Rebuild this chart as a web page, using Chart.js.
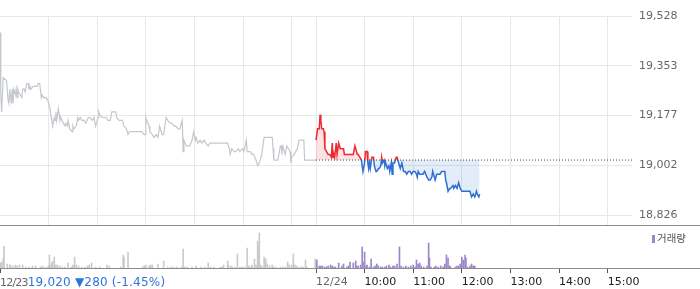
<!DOCTYPE html>
<html>
<head>
<meta charset="utf-8">
<script src="https://cdn.jsdelivr.net/npm/chart.js@4.4.1/dist/chart.umd.min.js"></script>
<style>
  body { margin: 0; background: #fff; font-family: "DejaVu Sans", sans-serif; }
  #wrap { position: relative; width: 700px; height: 289px; overflow: hidden; }
  .box { position: absolute; left: 0; width: 700px; }
  .rule { position: absolute; left: 0; width: 700px; height: 1px; background: #8c8c8c; }
  #legend { position: absolute; left: 652px; top: 230px; font: 10.5px "Noto Sans CJK KR", sans-serif; color: #555; white-space: nowrap; }
  #legend i { display: inline-block; width: 3px; height: 8px; background: #9b87c8; margin-right: 2px; vertical-align: middle; }
  #info { position: absolute; left: 0; top: 274px; line-height: 14px; white-space: nowrap; }
  #info .g { color: #666; font-size: 11px; letter-spacing: -0.8px; }
  #info .b { color: #2f74dc; font-size: 12px; letter-spacing: 0.2px; }
</style>
</head>
<body>
<div id="wrap">
  <div class="box" style="top:0;height:225px"><canvas id="priceChart"></canvas></div>
  <div class="rule" style="top:225px"></div>
  <div class="box" style="top:226px;height:63px"><canvas id="volChart"></canvas></div>
  <div class="rule" style="top:268px"></div>
  <div id="legend"><i></i>거래량</div>
  <div id="info"></div>
</div>
<script>
// previous session (12/23) summary
const prevDate = '12/23';
const prevClose = 19020;
const prevChange = -280;
const prevPct = -1.45;

// minutes since 09:00, one trading session = 390 minutes
const sessionLength = 390;

// 12/23 price line
const prevMins = [0,1,2,4,8,10,11,12,14,15,
  16,17,19,20,21,22,23,25,27,28,
  30,31,33,35,36,37,38,41,43,46,
  47,49,51,52,54,57,59,62,63,64,
  65,67,68,69,70,72,73,74,75,78,
  80,81,83,84,86,89,90,91,94,96,
  97,99,101,104,106,109,111,114,116,118,
  121,122,123,126,131,133,136,138,143,144,
  147,151,153,156,158,160,170,175,178,179,
  180,181,184,185,188,190,193,195,197,200,
  202,205,207,210,212,215,217,220,222,223,
  225,226,227,230,232,234,237,239,241,242,
  244,247,249,252,254,257,259,262,264,281,
  283,284,286,289,291,294,296,299,301,304,
  305,309,311,313,316,318,320,321,323,326,
  328,333,336,337,338,343,346,347,348,349,
  352,354,358,359,360,363,365,367,369,371,
  375,376,390];
const prevPrices = [19470,19250,19190,19310,19300,19230,19220,19270,19220,19270,
  19220,19270,19250,19270,19240,19270,19260,19250,19240,19270,
  19270,19260,19290,19290,19270,19280,19270,19280,19280,19280,
  19290,19290,19240,19250,19240,19240,19230,19200,19170,19160,
  19140,19170,19160,19190,19160,19200,19180,19160,19170,19150,
  19140,19150,19140,19160,19130,19120,19140,19130,19140,19170,
  19160,19170,19160,19160,19150,19170,19170,19160,19170,19140,
  19170,19190,19180,19170,19170,19160,19160,19190,19190,19170,
  19160,19160,19140,19130,19110,19120,19120,19120,19110,19110,
  19170,19160,19140,19120,19110,19100,19110,19100,19140,19110,
  19110,19170,19160,19150,19150,19140,19140,19130,19130,19140,
  19160,19050,19090,19070,19070,19070,19090,19120,19090,19100,
  19080,19090,19080,19090,19080,19070,19080,19080,19080,19080,
  19060,19040,19060,19050,19050,19060,19050,19060,19050,19090,
  19050,19050,19040,19040,19020,19000,19010,19020,19040,19100,
  19100,19100,19100,19060,19020,19020,19070,19070,19040,19070,
  19040,19070,19050,19010,19030,19040,19050,19060,19090,19090,
  19090,19020,19020];

// 12/24 price line
const todayMins = [0,2,4,5,6,7,9,10,11,13,
  15,17,19,20,21,22,23,25,26,28,
  29,30,32,34,35,37,39,40,42,44,
  46,48,49,51,52,54,56,58,60,61,
  63,64,65,66,67,69,71,72,74,75,
  77,78,80,81,82,84,85,86,88,90,
  91,93,94,95,97,99,100,102,103,104,
  106,108,110,112,114,116,118,120,122,124,
  125,126,128,130,132,134,137,139,141,143,
  144,146,147,149,151,153,155,157,159,160,
  161,163,165,166,169,170,172,174,176,178,
  180,182,184,186,188,190,192,194,196,198,
  199,201,202];
const todayPrices = [19090,19130,19130,19180,19160,19130,19130,19120,19060,19050,
  19040,19040,19030,19080,19030,19040,19030,19080,19040,19080,
  19070,19060,19060,19060,19040,19040,19040,19040,19040,19040,
  19040,19070,19060,19040,19040,19030,19020,18980,19010,19050,
  19050,19010,18990,19010,18990,19030,19030,19000,18980,18980,
  18990,18990,19000,19030,19010,19020,19000,19010,18990,19000,
  18980,19010,18970,19010,19010,19030,19030,19010,19000,18990,
  19010,18980,18980,18970,18980,18980,18970,18980,18980,18970,
  18960,18980,18970,18970,18970,18980,18960,18950,18950,18960,
  18980,18960,18950,18970,18970,18970,18980,18980,18980,18950,
  18940,18910,18920,18920,18930,18920,18930,18920,18940,18920,
  18910,18910,18910,18910,18910,18910,18890,18900,18890,18910,
  18900,18890,18900];

// volume (thousand shares)
const prevVolMins = [1,2,4,5,9,12,13,16,19,21,
  24,28,32,36,40,44,50,52,55,58,
  60,61,63,64,65,67,69,71,74,77,
  80,84,88,90,92,94,97,101,105,108,
  110,113,118,123,132,135,149,152,153,158,
  176,178,180,184,186,188,195,202,207,211,
  214,218,224,226,228,231,237,242,248,253,
  257,260,264,272,274,276,281,282,285,287,
  290,293,296,299,302,305,307,309,311,314,
  316,318,319,320,322,324,326,328,330,333,
  336,338,341,346,349,352,355,357,360,362,
  364,366,369,372,374,377,379,389];
const prevVols = [5,6,10,22,4,3,3,2,3,2,
  3,3,1,1,2,2,1,2,1,1,
  2,13,3,5,7,11,3,3,2,1,
  1,5,1,3,11,3,2,1,1,2,
  3,5,1,1,3,2,1,13,11,16,
  1,2,3,2,3,3,4,7,1,1,
  1,1,1,19,1,1,1,2,1,1,
  5,1,1,1,1,3,7,3,2,1,
  1,14,1,1,1,20,2,1,3,9,
  3,27,22,35,3,1,11,9,4,2,
  3,1,1,1,1,1,6,3,3,14,
  3,2,1,1,1,8,1,9];
const todayVolMins = [1,4,6,8,11,13,15,18,20,22,
  24,28,32,34,38,40,42,46,49,50,
  52,55,57,58,60,62,63,66,68,71,
  73,75,77,80,82,85,87,90,92,95,
  97,100,103,105,108,111,114,117,120,122,
  124,126,128,130,133,137,139,140,142,146,
  148,151,154,157,159,161,163,165,166,172,
  174,176,178,180,182,184,185,187,190,192,
  194,196];
const todayVols = [8,2,2,2,1,1,2,3,2,1,
  1,5,2,4,1,2,6,5,7,2,
  2,3,21,6,16,2,3,1,9,1,
  2,4,2,1,1,1,2,3,1,2,
  2,4,21,2,1,2,1,2,3,1,
  8,4,5,2,1,2,25,10,1,1,
  2,1,2,1,4,13,10,2,1,1,
  2,2,4,11,8,13,10,1,2,4,
  2,2];

// axes
const priceTicks = [18826, 19001.5, 19177, 19352.5, 19528];
const priceMin = 18791;
const gridMins = [60, 120, 180, 240, 300, 360, 390, 450, 510, 570, 630, 690, 750];
const axisMins = [0, 390, 450, 510, 570, 630, 690, 750];
const axisLabels = ['', '12/24', '10:00', '11:00', '12:00', '13:00', '14:00', '15:00'];

const RED = '#f02830';
const BLUE = '#2f6fd2';

Chart.defaults.font.family = '"DejaVu Sans", sans-serif';
Chart.defaults.font.size = 11;
Chart.defaults.animation = false;

const toPoints = (mins, vals, offset) => mins.map((m, i) => ({ x: m + offset, y: vals[i] }));

document.getElementById('info').innerHTML =
  '<span class="g">' + prevDate + '</span><span class="b">' + prevClose.toLocaleString('en-US') +
  ' \u25BC' + Math.abs(prevChange) + ' (' + prevPct.toFixed(2) + '%)</span>';

// red above the previous close, blue below
function splitColor(ctx) {
  const chart = ctx.chart;
  const area = chart.chartArea;
  if (!area) return RED;
  const yb = chart.scales.y.getPixelForValue(prevClose);
  const f = Math.min(1, Math.max(0, (yb - area.top) / (area.bottom - area.top)));
  const g = chart.ctx.createLinearGradient(0, area.top, 0, area.bottom);
  g.addColorStop(0, RED);
  g.addColorStop(f, RED);
  g.addColorStop(f, BLUE);
  g.addColorStop(1, BLUE);
  return g;
}

new Chart(document.getElementById('priceChart'), {
  type: 'line',
  data: {
    datasets: [{
      data: [{ x: sessionLength, y: prevClose }, { x: sessionLength * 2, y: prevClose }],
      borderColor: '#444',
      borderWidth: 1,
      borderDash: [1, 2],
      pointRadius: 0,
      order: 0
    }, {
      data: toPoints(todayMins, todayPrices, sessionLength),
      borderColor: splitColor,
      borderWidth: 1.5,
      pointRadius: 0,
      fill: { target: { value: prevClose }, above: 'rgba(245,60,70,0.14)', below: 'rgba(60,120,210,0.14)' },
      order: 1
    }, {
      data: toPoints(prevMins, prevPrices, 0),
      borderColor: '#c4c8cc',
      borderWidth: 1.2,
      pointRadius: 0,
      order: 2
    }]
  },
  options: {
    responsive: true,
    maintainAspectRatio: false,
    layout: { padding: { top: 16, left: 0, right: 0, bottom: 0 } },
    plugins: { legend: { display: false }, tooltip: { enabled: false } },
    scales: {
      x: {
        type: 'linear',
        min: 0,
        max: sessionLength * 2,
        afterBuildTicks: s => { s.ticks = gridMins.map(v => ({ value: v })); },
        afterFit: s => { s.height = 0; },
        grid: { color: '#e8e8e8', drawTicks: false },
        border: { display: false },
        ticks: { display: false }
      },
      y: {
        position: 'right',
        min: priceMin,
        max: priceTicks[priceTicks.length - 1],
        afterBuildTicks: s => { s.ticks = priceTicks.map(v => ({ value: v })); },
        afterFit: s => { s.width = 68; s.paddingTop = 0; s.paddingBottom = 0; },
        grid: { color: '#e8e8e8', drawTicks: false },
        border: { display: false },
        ticks: {
          color: '#666',
          padding: 7,
          callback: v => Math.round(v).toLocaleString('en-US')
        }
      }
    }
  }
});

new Chart(document.getElementById('volChart'), {
  type: 'bar',
  data: {
    datasets: [{
      label: '거래량',
      data: toPoints(todayVolMins, todayVols, sessionLength),
      backgroundColor: '#9b87c8'
    }, {
      data: toPoints(prevVolMins, prevVols, 0),
      backgroundColor: '#c8cacd'
    }]
  },
  options: {
    responsive: true,
    maintainAspectRatio: false,
    layout: { padding: { top: 2, left: 0, right: 68, bottom: 0 } },
    datasets: { bar: { barThickness: 1, grouped: false } },
    plugins: { legend: { display: false }, tooltip: { enabled: false } },
    scales: {
      x: {
        type: 'linear',
        offset: false,
        min: 0,
        max: sessionLength * 2,
        afterBuildTicks: s => { s.ticks = axisMins.map(v => ({ value: v })); },
        afterFit: s => { s.height = 21; s.paddingLeft = 0; s.paddingRight = 0; },
        grid: { offset: false, drawOnChartArea: false, drawTicks: true, tickLength: 5, color: '#555' },
        border: { display: false },
        ticks: {
          autoSkip: false,
          maxRotation: 0,
          align: 'start',
          padding: 3,
          color: c => (c.index <= 1 ? '#666' : '#222'),
          callback: (v, i) => axisLabels[i]
        }
      },
      y: { display: false, min: 0, max: 40 }
    }
  }
});
</script>
</body>
</html>
